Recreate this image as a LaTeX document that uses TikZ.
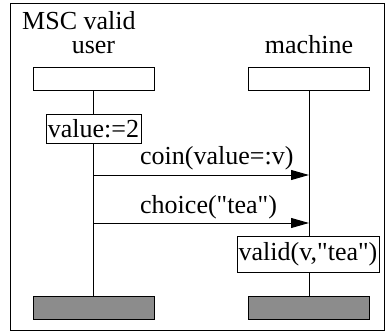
\documentclass[tikz,border=0pt]{standalone}
\usepackage{fontspec}
\setmainfont{Liberation Serif}[Ligatures=TeXOff]
\usetikzlibrary{arrows.meta}
\begin{document}
\begin{tikzpicture}[x=1pt,y=-1pt,
  txt/.style={font=\fontsize{26}{28}\selectfont, inner sep=0pt},
  headbox/.style={draw, line width=1pt, minimum width=121pt, minimum height=23pt, inner sep=0pt},
  endbox/.style={draw, line width=1pt, fill=black!45, minimum width=121pt, minimum height=23pt, inner sep=0pt},
  actbox/.style={draw, line width=1pt, inner sep=1pt, font=\fontsize{26}{28}\selectfont},
  lifeline/.style={line width=1pt},
  msg/.style={line width=1pt, -{Triangle[length=18pt,width=10pt]}}]
\useasboundingbox (0,0) rectangle (386,332);
\draw[line width=1.5pt] (10.5,3.5) rectangle (384.5,330.5);
\node[txt, anchor=base west, text depth=0pt] (title) at (22,29) {MSC valid};
\node[txt, anchor=base, text height=12pt] (ulabel) at (93.5,53) {user};
\node[txt, anchor=base, text height=18pt] (mlabel) at (309,53) {machine};
\node[headbox] (uhead) at (93.5,78.5) {};
\node[headbox] (mhead) at (309,78.5) {};
\node[endbox] (uend) at (93.5,307.5) {};
\node[endbox] (mend) at (309,307.5) {};
\node[actbox, minimum width=95pt, minimum height=29pt] (act) at (93.5,128.5) {value:=2};
\node[actbox, minimum width=142pt, minimum height=36pt] (valid) at (308,254) {valid(v,"tea")};
\draw[lifeline] (uhead.south) -- (act.north);
\draw[lifeline] (act.south) -- (uend.north);
\draw[lifeline] (mhead.south) -- (mhead.south |- valid.north);
\draw[lifeline] (mhead.south |- valid.south) -- (mend.north);
\coordinate (c1) at (93.5,175);
\coordinate (c2) at (309,175);
\coordinate (d1) at (93.5,223);
\coordinate (d2) at (309,223);
\draw[msg] (c1) -- (c2);
\draw[msg] (d1) -- (d2);
\node[txt, anchor=base west] (coin) at (140,164) {coin(value=:v)};
\node[txt, anchor=base west] (choice) at (140,213) {choice("tea")};
\end{tikzpicture}
\end{document}
